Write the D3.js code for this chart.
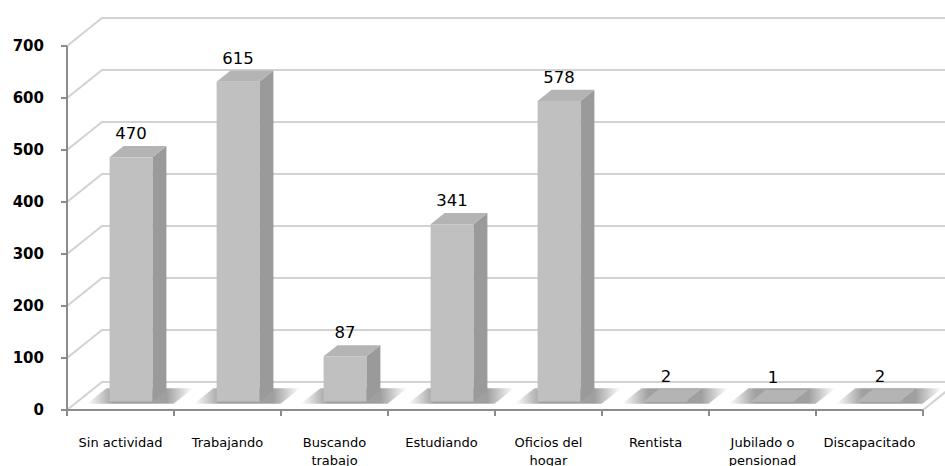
<!DOCTYPE html>
<html>
<head>
<meta charset="utf-8">
<script src="https://cdn.jsdelivr.net/npm/d3@7"></script>
<style>
  body { margin: 0; background: #fff; }
  svg { display: block; }
</style>
</head>
<body>
<svg width="945" height="466"></svg>
<script>
var categories = ["Sin actividad", "Trabajando", "Buscando trabajo", "Estudiando", "Oficios del hogar", "Rentista", "Jubilado o pensionad", "Discapacitado"];
var labelLines = [["Sin actividad"], ["Trabajando"], ["Buscando", "trabajo"], ["Estudiando"], ["Oficios del", "hogar"], ["Rentista"], ["Jubilado o", "pensionad"], ["Discapacitado"]];
var values = [470, 615, 87, 341, 578, 2, 1, 2];
var yTicks = [0, 100, 200, 300, 400, 500, 600, 700];

var svg = d3.select("svg"),
    width = +svg.attr("width"),
    height = +svg.attr("height");

// depth offset of the back wall
var depthX = 35, depthY = -28;

var x = d3.scaleBand()
    .domain(categories)
    .range([67, 923])
    .padding(0);

var y = d3.scaleLinear()
    .domain([0, 700])
    .range([410, 46]);

// project a point (px, value, depth 0..1)
function P(px, v, z) {
  return [px + depthX * z, y(v) + depthY * z];
}
function poly(pts) { return pts.map(function(p) { return p.join(","); }).join(" "); }

var defs = svg.append("defs");
var grad = defs.append("linearGradient").attr("id", "shadow")
    .attr("x1", "0%").attr("x2", "100%").attr("y1", "0%").attr("y2", "0%");
grad.append("stop").attr("offset", "0%").attr("stop-color", "#888").attr("stop-opacity", 0);
grad.append("stop").attr("offset", "25%").attr("stop-color", "#888").attr("stop-opacity", 0.8);
grad.append("stop").attr("offset", "75%").attr("stop-color", "#888").attr("stop-opacity", 0.8);
grad.append("stop").attr("offset", "100%").attr("stop-color", "#888").attr("stop-opacity", 0);

var x0 = x.range()[0], x1 = x.range()[1];

// gridlines: left wall diagonal + back wall horizontal
var grid = svg.append("g").attr("stroke", "#d2d2d2").attr("stroke-width", 2).attr("fill", "none");
yTicks.forEach(function(t) {
  var a = P(x0, t, 0), b = P(x0, t, 1), c = P(x1 + 60, t, 1);
  grid.append("polyline").attr("points", poly([a, b, c]));
});
// right edge of floor
grid.append("line")
    .attr("x1", P(x1, 0, 0)[0]).attr("y1", P(x1, 0, 0)[1])
    .attr("x2", P(x1, 0, 1)[0]).attr("y2", P(x1, 0, 1)[1]);

var bw = x.bandwidth() * 0.4, inset = x.bandwidth() * 0.3;
var z0 = 0.3, z1 = 0.7;

// floor shadows
svg.append("g").selectAll("polygon")
    .data(categories)
    .enter().append("polygon")
    .attr("fill", "url(#shadow)")
    .attr("points", function(d) {
      var l = x(d) + inset - 20, r = x(d) + inset + bw + 24;
      return poly([P(l, 0, 0.22), P(r, 0, 0.22), P(r, 0, 0.78), P(l, 0, 0.78)]);
    });

// bars
var bars = svg.append("g").selectAll("g")
    .data(values)
    .enter().append("g");

bars.append("polygon")
    .attr("fill", "#9a9a9a")
    .attr("points", function(d, i) {
      var r = x(categories[i]) + inset + bw;
      return poly([P(r, 0, z0), P(r, 0, z1), P(r, d, z1), P(r, d, z0)]);
    });
bars.append("polygon")
    .attr("fill", "#b4b4b4")
    .attr("points", function(d, i) {
      var l = x(categories[i]) + inset, r = l + bw;
      return poly([P(l, d, z0), P(r, d, z0), P(r, d, z1), P(l, d, z1)]);
    });
bars.append("polygon")
    .attr("fill", "#c0c0c0")
    .attr("points", function(d, i) {
      var l = x(categories[i]) + inset, r = l + bw;
      return poly([P(l, 0, z0), P(r, 0, z0), P(r, d, z0), P(l, d, z0)]);
    });

// value labels
bars.append("text")
    .attr("x", function(d, i) { return P(x(categories[i]) + inset + bw / 2, d, z0)[0]; })
    .attr("y", function(d) { return P(0, d, z1)[1] - 7; })
    .attr("text-anchor", "middle")
    .attr("font-family", "DejaVu Sans")
    .attr("font-size", 16.5)
    .attr("fill", "#000")
    .text(function(d) { return d; });

// axes
var axis = svg.append("g").attr("stroke", "#8c8c8c").attr("stroke-width", 2);
axis.append("line").attr("x1", x0).attr("x2", x0).attr("y1", y(700)).attr("y2", y(0) + 1);
axis.append("line").attr("x1", x0 - 6).attr("x2", x1).attr("y1", y(0)).attr("y2", y(0));
yTicks.forEach(function(t) {
  axis.append("line").attr("x1", x0 - 6).attr("x2", x0).attr("y1", y(t)).attr("y2", y(t));
});
var bounds = categories.map(function(c) { return x(c); }).concat([x1]);
bounds.forEach(function(b) {
  axis.append("line").attr("x1", b).attr("x2", b).attr("y1", y(0)).attr("y2", y(0) + 6);
});

// y tick labels
svg.append("g").selectAll("text")
    .data(yTicks)
    .enter().append("text")
    .attr("x", 44)
    .attr("y", function(d) { return y(d); })
    .attr("dy", "0.36em")
    .attr("text-anchor", "end")
    .attr("font-family", "DejaVu Sans")
    .attr("font-weight", "bold")
    .attr("font-size", 15)
    .attr("fill", "#000")
    .text(function(d) { return d; });

// category labels
var cat = svg.append("g").selectAll("text")
    .data(categories)
    .enter().append("text")
    .attr("text-anchor", "middle")
    .attr("font-family", "DejaVu Sans")
    .attr("font-size", 13)
    .attr("fill", "#000");
cat.selectAll("tspan")
    .data(function(d, i) { return labelLines[i]; })
    .enter().append("tspan")
    .attr("x", function() { var c = d3.select(this.parentNode).datum(); return x(c) + x.bandwidth() / 2; })
    .attr("y", function(d, i) { return 447 + i * 18; })
    .text(function(d) { return d; });
</script>
</body>
</html>
